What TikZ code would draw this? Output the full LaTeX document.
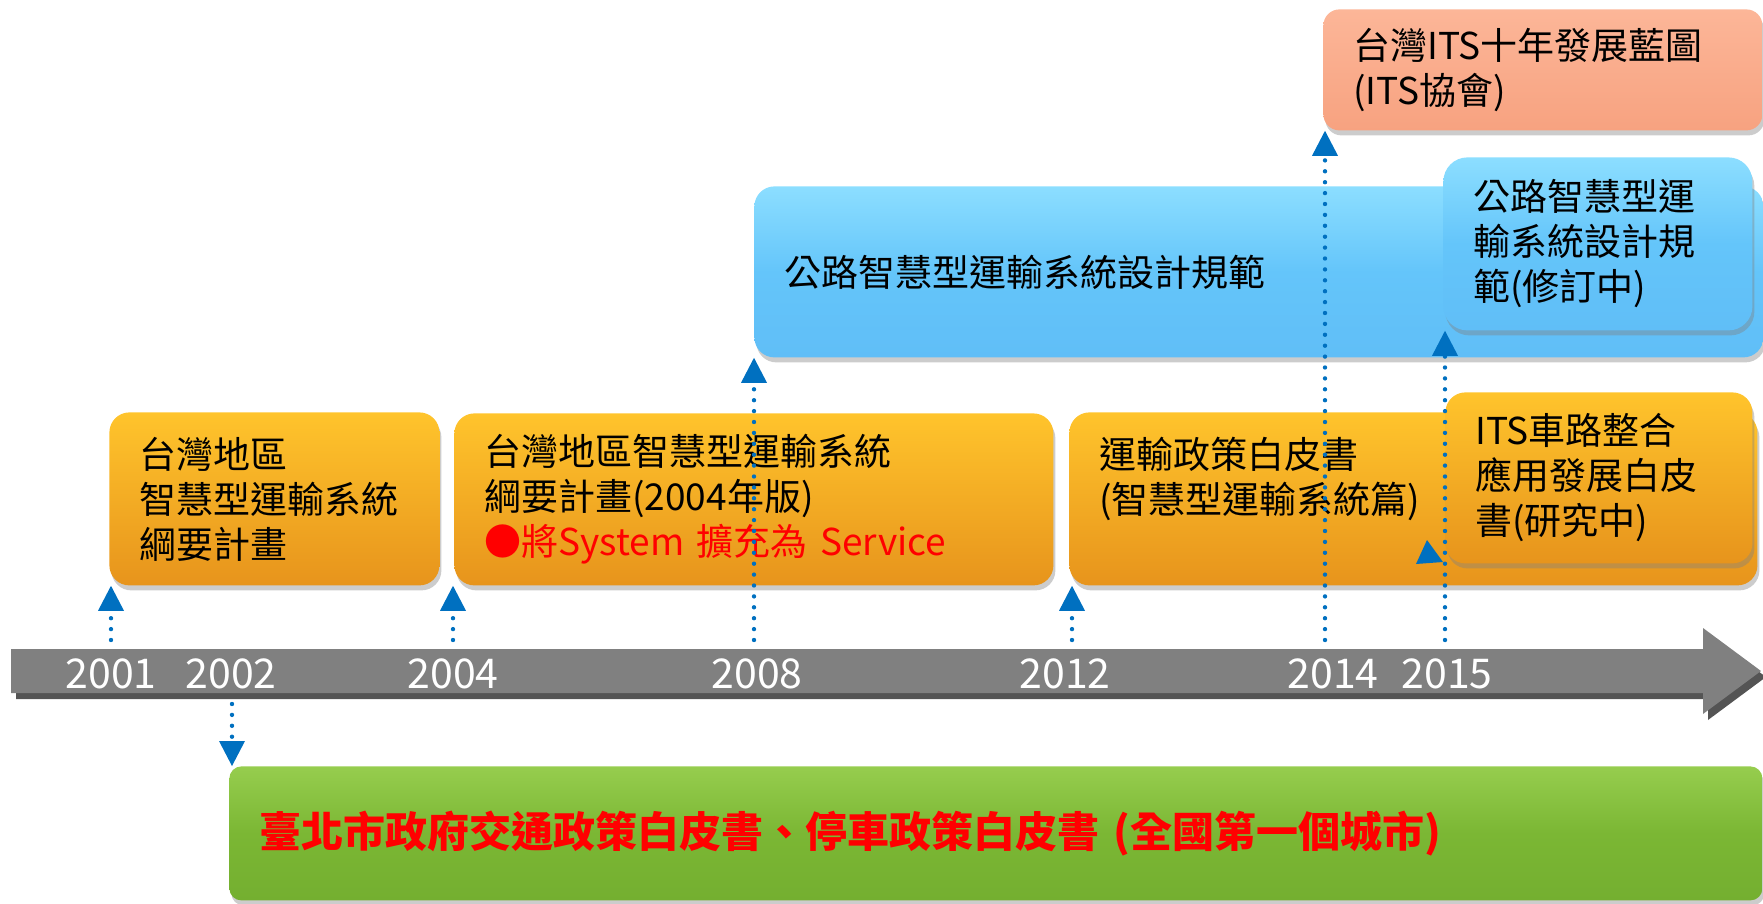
\documentclass[tikz,border=0pt]{standalone}
\usepackage{fontspec}
\setmainfont{Noto Sans CJK TC}
\usepackage{color}
\usepackage{tikz}
\usetikzlibrary{arrows.meta,shadows}

\definecolor{orangetop}{RGB}{255,196,44}
\definecolor{orangebot}{RGB}{231,148,28}
\definecolor{bluetop}{RGB}{140,222,255}
\definecolor{bluemid}{RGB}{100,197,250}
\definecolor{bluebot}{RGB}{96,190,247}
\definecolor{salmontop}{RGB}{252,182,152}
\definecolor{salmonbot}{RGB}{247,162,128}
\definecolor{greentop}{RGB}{150,205,78}
\definecolor{greenmid}{RGB}{123,183,52}
\definecolor{greenbot}{RGB}{116,175,48}
\definecolor{bargray}{RGB}{128,128,128}
\definecolor{barshadow}{RGB}{84,84,84}
\definecolor{tickblue}{RGB}{0,112,192}

\tikzset{
  phasebox/.style={rectangle, rounded corners=10pt, anchor=north west, align=left,
    inner xsep=15pt, inner ysep=3pt, text=black,
    font=\fontsize{18.5}{22.5}\selectfont,
    drop shadow={shadow xshift=1pt, shadow yshift=-2.5pt, opacity=.4}},
  orangephase/.style={phasebox, top color=orangetop, bottom color=orangebot},
  bluephase/.style={phasebox, top color=bluetop, bottom color=bluebot, middle color=bluemid},
  salmonphase/.style={phasebox, rounded corners=8pt, top color=salmontop, bottom color=salmonbot},
  greenphase/.style={phasebox, rounded corners=6pt, top color=greentop, bottom color=greenbot, middle color=greenmid},
  year/.style={text=white, font=\fontsize{20.5}{24}\selectfont},
  tick/.style={draw=tickblue, line width=2.2pt, line cap=round, dash pattern=on 0pt off 5.45pt,
    -{Triangle[width=13pt,length=12.5pt,line width=0pt]}}
}

\begin{document}
\begin{tikzpicture}[x=0.5pt,y=-0.5pt]
\useasboundingbox (0,0) rectangle (1763,904);

\node[bluephase, text width=474.5pt, minimum height=85.5pt] (spec2008) at (754,186) {公路智慧型運輸系統設計規範};
\node[bluephase, rounded corners=12pt, text width=124.5pt, minimum height=86.5pt] (specrev) at (1443,157) {公路智慧型運\\輸系統設計規\\範(修訂中)};
\node[salmonphase, text width=189.5pt, minimum height=60.5pt] (itsmap) at (1323,9) {台灣ITS十年發展藍圖\\(ITS協會)};

\node[orangephase, text width=314pt, minimum height=86.5pt] (policy2012) at (1069,412) {運輸政策白皮書\\(智慧型運輸系統篇)\rule[-24pt]{0pt}{0pt}};
\fill[tickblue] (1427,540) -- (1416,564) -- (1443,562) -- cycle;
\node[orangephase, text width=123.5pt, minimum height=85.5pt] (itswhite) at (1445,392) {ITS車路整合\\應用發展白皮\\書(研究中)};

\node[orangephase, text width=135pt, minimum height=86.5pt] (plan2001) at (109,412) {台灣地區\\智慧型運輸系統\\綱要計畫};
\node[orangephase, text width=269.5pt, minimum height=86pt] (plan2004) at (454,413) {台灣地區智慧型運輸系統\\綱要計畫(2004年版)\\{\color{red}●將System 擴充為 Service}};

\node[greenphase, text width=736.5pt, minimum height=67pt, font=\fontsize{21}{25}\selectfont\bfseries, text=red] (taipei) at (229,766) {臺北市政府交通政策白皮書、停車政策白皮書 (全國第一個城市)};

\fill[barshadow] (16,655) -- (1708,655) -- (1708,634) -- (1766,677) -- (1708,720) -- (1708,699) -- (16,699) -- cycle;
\fill[bargray] (11,649) -- (1703,649) -- (1703,628) -- (1761,671) -- (1703,714) -- (1703,693) -- (11,693) -- cycle;

\node[year] (y2001) at (111,673.5) {2001};
\node[year] (y2002) at (231,673.5) {2002};
\node[year] (y2004) at (453,673.5) {2004};
\node[year] (y2008) at (757,673.5) {2008};
\node[year] (y2012) at (1065,673.5) {2012};
\node[year] (y2014) at (1333,673.5) {2014};
\node[year] (y2015) at (1447,673.5) {2015};

\coordinate (t2001) at (111,640);
\coordinate (b2002) at (232,704);
\coordinate (t2004) at (453,640);
\coordinate (t2008) at (754,640);
\coordinate (t2012) at (1072,640);
\coordinate (t2014) at (1325,640);
\coordinate (t2015) at (1445,640);

\draw[tick] (t2001) -- (t2001 |- plan2001.south);
\draw[tick] (b2002) -- (b2002 |- taipei.north);
\draw[tick] (t2004) -- (t2004 |- plan2004.south);
\draw[tick] (t2008) -- (t2008 |- spec2008.south);
\draw[tick] (t2012) -- (t2012 |- policy2012.south);
\draw[tick] (t2014) -- (t2014 |- itsmap.south);
\draw[tick] (t2015) -- (t2015 |- specrev.south);
\end{tikzpicture}
\end{document}
